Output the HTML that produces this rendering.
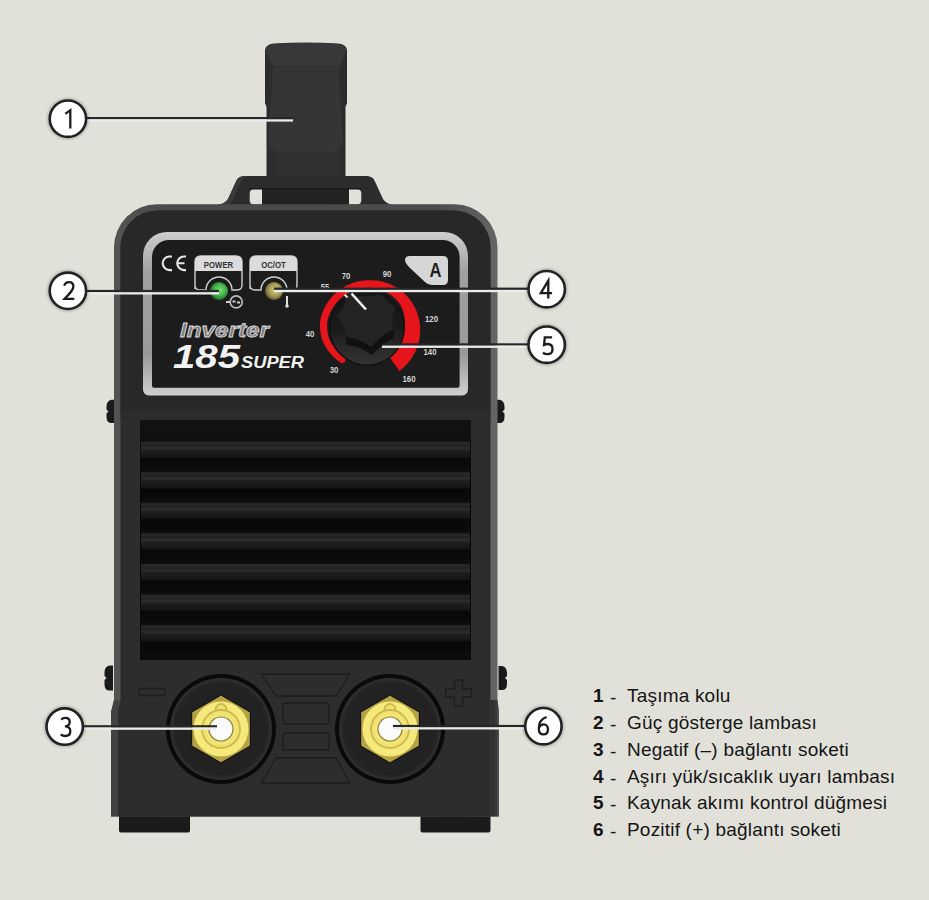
<!DOCTYPE html>
<html><head><meta charset="utf-8">
<style>
html,body{margin:0;padding:0;background:#e1e1da;width:929px;height:900px;overflow:hidden}
svg{display:block;position:absolute;left:0;top:0}
.lg{position:absolute;left:593px;font-family:"Liberation Sans",sans-serif;font-size:19px;color:#151515;white-space:nowrap;letter-spacing:0.2px;line-height:20px}
.lg b{display:inline-block;width:14px;font-weight:bold;letter-spacing:0}
.lg i{font-style:normal;display:inline-block;width:20px;position:relative;top:2px;left:3px}
</style></head><body>
<svg width="929" height="900" viewBox="0 0 929 900">
<defs>
  <filter id="blur1" x="-20%" y="-20%" width="140%" height="140%"><feGaussianBlur stdDeviation="1.2"/></filter>
  <linearGradient id="rim" x1="0" x2="1" y1="0" y2="0">
    <stop offset="0" stop-color="#545454"/><stop offset="0.15" stop-color="#4a4a4a"/><stop offset="0.85" stop-color="#4c4c4c"/><stop offset="1" stop-color="#666"/>
  </linearGradient>
  <linearGradient id="rimLow" x1="0" x2="1" y1="0" y2="0">
    <stop offset="0" stop-color="#2a2a2a"/><stop offset="0.7" stop-color="#3a3a3a"/><stop offset="1" stop-color="#555"/>
  </linearGradient>
  <linearGradient id="pborder" x1="0" x2="0" y1="0" y2="1">
    <stop offset="0" stop-color="#cfcfcf"/><stop offset="0.25" stop-color="#a0a0a0"/><stop offset="0.75" stop-color="#9a9a9a"/><stop offset="1" stop-color="#d0d0d0"/>
  </linearGradient>
  <radialGradient id="ledG" cx="0.55" cy="0.45" r="0.55">
    <stop offset="0" stop-color="#7ee07e"/><stop offset="0.6" stop-color="#41b047"/><stop offset="1" stop-color="#2a6a2e"/>
  </radialGradient>
  <radialGradient id="ledY" cx="0.55" cy="0.45" r="0.55">
    <stop offset="0" stop-color="#d0c57a"/><stop offset="0.6" stop-color="#a89d58"/><stop offset="1" stop-color="#625c36"/>
  </radialGradient>
  <linearGradient id="knobG" x1="0" x2="0" y1="0" y2="1">
    <stop offset="0" stop-color="#151515"/><stop offset="0.5" stop-color="#1a1a1a"/><stop offset="0.7" stop-color="#262626"/><stop offset="1" stop-color="#333"/>
  </linearGradient>
  <linearGradient id="ventTop" x1="0" x2="0" y1="0" y2="1">
    <stop offset="0" stop-color="#121212"/><stop offset="0.3" stop-color="#060606"/><stop offset="1" stop-color="#0b0b0b"/>
  </linearGradient>
  <linearGradient id="slat" x1="0" x2="0" y1="0" y2="1">
    <stop offset="0" stop-color="#222"/>
    <stop offset="0.06" stop-color="#2a2a2a"/>
    <stop offset="0.1" stop-color="#232323"/>
    <stop offset="0.15" stop-color="#222"/>
    <stop offset="0.19" stop-color="#2c2c2c"/>
    <stop offset="0.25" stop-color="#2a2a2a"/>
    <stop offset="0.28" stop-color="#1f1f1f"/>
    <stop offset="0.5" stop-color="#161616"/>
    <stop offset="0.55" stop-color="#080808"/>
    <stop offset="0.85" stop-color="#0a0a0a"/>
    <stop offset="1" stop-color="#0f0f0f"/>
  </linearGradient>
  <linearGradient id="handleG" x1="0" x2="1" y1="0" y2="0">
    <stop offset="0" stop-color="#2a2a2a"/><stop offset="0.15" stop-color="#303030"/><stop offset="0.85" stop-color="#303030"/><stop offset="1" stop-color="#2a2a2a"/>
  </linearGradient>
</defs>


<path d="M265 103 L265 50 Q266 44 274 43.5 Q306 41.5 338 43.5 Q346 44 347 50 L347 103 L345.5 107 L345.5 206 L266.5 206 L266.5 107 Z" fill="url(#handleG)"/>
<path d="M266 51 Q267 44.5 274 44 Q306 42 338 44 Q345 44.5 346 51 L340 66 L272 66 Z" fill="#383838"/>
<path d="M273 67 L338 67 L343 138 Q343 152 330 152 L282 152 Q268.5 152 268.5 138 Z" fill="#353535"/>
<path d="M217 205 Q225 204 228 199 L236.5 180.5 Q238.5 176 245 176 L366 176 Q372.5 176 374.5 180.5 L383 199 Q386 204 394 205 Z" fill="#2c2c2c"/>
<path d="M217 205 Q225 204 228 199 L236.5 180.5 Q238.5 176 245 176 L250 176 Q243 177 241 181 L233 200 Q231 204 226 205 Z" fill="#3a3a3a"/>
<path d="M262 189 L254 189 Q249.7 189 249.7 194 L249.7 200 Q249.7 204.5 254 204.5 L262 204.5 Z" fill="#e1e1da"/>
<path d="M349 189 L357 189 Q361.3 189 361.3 194 L361.3 200 Q361.3 204.5 357 204.5 L349 204.5 Z" fill="#e1e1da"/>
<rect x="262" y="189" width="87" height="16" fill="#222"/><rect x="249.7" y="188" width="111.6" height="1.5" fill="#1a1a1a"/>

<path d="M115 399.8 L111.5 399.8 Q106.5 400.8 106.5 406.8 L106.5 409.4 L108.5 411.4 L106.5 413.4 L106.5 417 Q106.5 423 111.5 423 L115 423 Z" fill="#1a1a1a"/>
<path d="M496 399.8 L499.5 399.8 Q504.5 400.8 504.5 406.8 L504.5 409.4 L502.5 411.4 L504.5 413.4 L504.5 417 Q504.5 423 499.5 423 L496 423 Z" fill="#1a1a1a"/>
<path d="M113 665.5 L109.5 665.5 Q104.5 666.5 104.5 672.5 L104.5 676.0 L106.5 678.0 L104.5 680.0 L104.5 684.5 Q104.5 690.5 109.5 690.5 L113 690.5 Z" fill="#1a1a1a"/>
<path d="M498.5 666 L502.0 666 Q507.0 667 507.0 673 L507.0 676.0 L505.0 678.0 L507.0 680.0 L507.0 684 Q507.0 690 502.0 690 L498.5 690 Z" fill="#1a1a1a"/>

<rect x="119" y="810" width="71" height="22.5" rx="2" fill="#1b1b1b"/>
<rect x="420.5" y="810" width="70" height="22.5" rx="2" fill="#1b1b1b"/>


<path d="M114 247 A43 43 0 0 1 157 204.3 L454.5 204.3 A43 43 0 0 1 497.5 247 L497.5 700 L499 712 L499 816.5 L111 816.5 L111 712 L114 700 Z" fill="url(#rim)"/>
<path d="M111 712 L114 700 L120.5 700 L118 710 L118 816.5 L111 816.5 Z" fill="#424242"/>
<path d="M497.5 700 L499 712 L499 816.5 L490.5 816.5 L490.5 700 Z" fill="url(#rimLow)"/>
<path d="M120.5 248 A37 37 0 0 1 157.5 210.5 L453 210.5 A37 37 0 0 1 490.5 248 L490.5 816.5 L118 816.5 L118 710 L120.5 700 Z" fill="#2d2d2d"/>
<path d="M120.5 248 A37 37 0 0 1 157.5 210.5 L453 210.5 A37 37 0 0 1 490.5 248 L490.5 410 L120.5 410 Z" fill="#282828"/>
<rect x="120.5" y="410" width="370" height="10" fill="#2c2c2c"/>
<path d="M143 256 A24 24 0 0 1 167 232 L444 232 A24 24 0 0 1 468 256 L468 389.6 A6 6 0 0 1 462 395.6 L149 395.6 A6 6 0 0 1 143 389.6 Z" fill="url(#pborder)"/>
<path d="M152 257 A17 17 0 0 1 169 240 L442.6 240 A17 17 0 0 1 459.6 257 L459.6 385.8 A2 2 0 0 1 457.6 387.8 L154 387.8 A2 2 0 0 1 152 385.8 Z" fill="#1c1c1c"/>

<rect x="140" y="420" width="331" height="240" fill="url(#ventTop)"/>
<rect x="141" y="441.5" width="329" height="30.6" fill="url(#slat)"/>
<rect x="141" y="472.1" width="329" height="30.6" fill="url(#slat)"/>
<rect x="141" y="502.7" width="329" height="30.6" fill="url(#slat)"/>
<rect x="141" y="533.3" width="329" height="30.6" fill="url(#slat)"/>
<rect x="141" y="563.9" width="329" height="30.6" fill="url(#slat)"/>
<rect x="141" y="594.5" width="329" height="30.6" fill="url(#slat)"/>
<rect x="141" y="625.1" width="329" height="30.6" fill="url(#slat)"/>

<g fill="none" stroke="#1d1d1d" stroke-width="1.3">
  <path d="M261 674 L350 674 L336 696 L276 696 Z"/>
  <rect x="283" y="703" width="46" height="21" rx="2"/>
  <rect x="283" y="733" width="46" height="17" rx="2"/>
  <path d="M276 758 L336 758 L350 783 L261 783 Z"/>
</g>
<rect x="139" y="688.5" width="26" height="7" rx="1.5" fill="none" stroke="#1d1d1d" stroke-width="1.3"/>
<path d="M454.5 680 h8 v9 h9 v8 h-9 v9 h-8 v-9 h-9 v-8 h9 Z" fill="none" stroke="#1d1d1d" stroke-width="1.3"/>


  <circle cx="221" cy="729" r="55" fill="#0a0a0a"/>
  <circle cx="221" cy="729" r="51" fill="#2e2e2e"/>
  <circle cx="221" cy="729" r="48.5" fill="#262626"/>
  <circle cx="221" cy="729" r="46" fill="#222"/>
  <polygon points="221.0,695.0 250.4,712.0 250.4,746.0 221.0,763.0 191.6,746.0 191.6,712.0" fill="#b5a244" stroke="#141414" stroke-width="1.2"/>
  <circle cx="221" cy="729" r="27.5" fill="#f4e97a"/>
  <circle cx="221" cy="709.5" r="5.5" fill="#f0e272" stroke="#cdb84c" stroke-width="1.8"/>
  <circle cx="221" cy="729" r="19" fill="#f0e272" stroke="#cdb84c" stroke-width="1.8"/>
  <circle cx="221" cy="729" r="15.5" fill="#f3e576"/>
  <circle cx="221" cy="729" r="12.6" fill="#8f803e"/>
  <circle cx="221" cy="729" r="11.4" fill="#fbfbfb"/>


  <circle cx="390" cy="729" r="55" fill="#0a0a0a"/>
  <circle cx="390" cy="729" r="51" fill="#2e2e2e"/>
  <circle cx="390" cy="729" r="48.5" fill="#262626"/>
  <circle cx="390" cy="729" r="46" fill="#222"/>
  <polygon points="390.0,695.0 419.4,712.0 419.4,746.0 390.0,763.0 360.6,746.0 360.6,712.0" fill="#b5a244" stroke="#141414" stroke-width="1.2"/>
  <circle cx="390" cy="729" r="27.5" fill="#f4e97a"/>
  <circle cx="390" cy="709.5" r="5.5" fill="#f0e272" stroke="#cdb84c" stroke-width="1.8"/>
  <circle cx="390" cy="729" r="19" fill="#f0e272" stroke="#cdb84c" stroke-width="1.8"/>
  <circle cx="390" cy="729" r="15.5" fill="#f3e576"/>
  <circle cx="390" cy="729" r="12.6" fill="#8f803e"/>
  <circle cx="390" cy="729" r="11.4" fill="#fbfbfb"/>


<g font-family="Liberation Sans, sans-serif">
  <path d="M172 256.5 L169.5 256.5 A6.8 6.8 0 0 0 169.5 270.1 L172 270.1 M186 256.5 L184 256.5 A6.8 6.8 0 0 0 184 270.1 L186 270.1 M177.5 263.3 L184.5 263.3" fill="none" stroke="#e6e6e6" stroke-width="2.1"/>
  <path d="M195 289 L195 262 Q195 256 201 256 L236 256 Q242 256 242 262 L242 285 Q242 290 237 290 L232 290 A13 13 0 0 0 206 290 L200 290 Q195 290 195 285 Z" fill="none" stroke="#cfcfcf" stroke-width="1.4"/>
  <path d="M195 271 L195 262 Q195 256 201 256 L236 256 Q242 256 242 262 L242 271 Z" fill="#dcdcdc"/>
  <text x="218.5" y="267.8" font-size="9.5" font-weight="bold" fill="#333" text-anchor="middle" transform="translate(218.5 0) scale(0.82 1) translate(-218.5 0)">POWER</text>
  <circle cx="219" cy="291" r="9" fill="url(#ledG)"/>
  <circle cx="236.2" cy="301.9" r="6" fill="none" stroke="#bdbdbd" stroke-width="1.6"/>
  <path d="M226 301.9 h4 M232.5 301.5 h3 M237 302.5 h3" stroke="#cfcfcf" stroke-width="2"/>
  <path d="M250 289 L250 262 Q250 256 256 256 L291 256 Q297 256 297 262 L297 285 Q297 290 292 290 L287 290 A13 13 0 0 0 261 290 L255 290 Q250 290 250 285 Z" fill="none" stroke="#cfcfcf" stroke-width="1.4"/>
  <path d="M250 271 L250 262 Q250 256 256 256 L291 256 Q297 256 297 262 L297 271 Z" fill="#dcdcdc"/>
  <text x="273.5" y="267.8" font-size="9.5" font-weight="bold" fill="#333" text-anchor="middle" transform="translate(273.5 0) scale(0.82 1) translate(-273.5 0)">OC/OT</text>
  <circle cx="274" cy="291" r="9" fill="url(#ledY)"/>
  <rect x="286" y="296" width="2" height="10" fill="#ddd"/>
  <circle cx="287" cy="306" r="1.8" fill="#ddd"/>
  <path d="M410 256 L443 256 Q448 256 448 261 L448 280 Q448 285 443 285 L432 285 Q428 285 425 282 L410 268 Q405 263 405 260 Q405 256 410 256 Z" fill="#d6d6d6"/>
  <text x="435.5" y="276.8" font-size="19.5" font-weight="bold" fill="#1e1e1e" text-anchor="middle" transform="translate(435.5 0) scale(0.85 1) translate(-435.5 0)">A</text>
  <g font-size="9.6" font-weight="bold" fill="#d4d4d4" text-anchor="middle">
    <text transform="translate(334 373) scale(0.82 1)">30</text>
    <text transform="translate(310 337) scale(0.82 1)">40</text>
    <text transform="translate(325 290) scale(0.82 1)">55</text>
    <text transform="translate(346 279) scale(0.82 1)">70</text>
    <text transform="translate(387 277) scale(0.82 1)">90</text>
    <text transform="translate(431.5 322) scale(0.82 1)">120</text>
    <text transform="translate(430 355) scale(0.82 1)">140</text>
    <text transform="translate(409 381.5) scale(0.82 1)">160</text>
  </g>
  <text x="180" y="336.5" font-size="21" font-style="italic" font-weight="bold" fill="#7a7a7a" stroke="#d8d8d8" stroke-width="0.9" textLength="89" lengthAdjust="spacingAndGlyphs">Inverter</text>
  <text x="173" y="368" font-size="34" font-style="italic" font-weight="bold" fill="#f2f2f2" textLength="67" lengthAdjust="spacingAndGlyphs">185</text>
  <text x="241" y="368" font-size="16" font-style="italic" font-weight="bold" fill="#f2f2f2" textLength="63" lengthAdjust="spacingAndGlyphs">SUPER</text>
</g>


<path d="M344.7 358.1 A3 3 0 0 1 340.8 362.6 L339.5 361.7 L338.2 360.8 L336.9 359.9 L335.7 358.8 L334.5 357.8 L333.3 356.7 L332.1 355.5 L331.0 354.3 L330.0 353.1 L328.9 351.8 L327.9 350.4 L327.0 349.1 L326.1 347.6 L325.2 346.2 L324.4 344.7 L323.7 343.2 L323.0 341.6 L322.3 340.0 L321.7 338.4 L321.3 336.7 L320.9 335.0 L320.6 333.3 L320.4 331.6 L320.2 329.9 L320.1 328.1 L320.0 326.4 L320.0 324.6 L320.1 322.9 L320.2 321.1 L320.4 319.4 L320.9 317.7 L321.3 316.0 L321.9 314.3 L322.4 312.6 L323.1 311.0 L323.8 309.4 L324.5 307.8 L325.3 306.2 L326.2 304.7 L327.1 303.2 L328.1 301.8 L329.1 300.4 L330.2 299.0 L331.3 297.6 L332.4 296.3 L333.6 295.1 L334.8 293.8 L336.1 292.7 L337.4 291.5 L338.8 290.5 L340.2 289.4 L341.6 288.5 L343.1 287.5 L344.6 286.7 L346.1 285.8 L347.6 285.1 L349.2 284.4 L350.8 283.7 L352.4 283.1 L354.0 282.5 L355.6 282.1 L357.3 281.6 L359.0 281.3 L360.7 281.0 L362.3 280.7 L364.0 280.5 L365.7 280.4 L367.4 280.3 L369.1 280.3 L370.9 280.3 L372.6 280.3 L374.3 280.4 L375.9 280.5 L377.6 280.8 L379.3 281.0 L381.0 281.3 L382.7 281.7 L384.3 282.2 L386.0 282.7 L387.6 283.2 L389.2 283.8 L390.8 284.5 L392.3 285.2 L393.8 286.0 L395.3 286.8 L396.8 287.7 L398.3 288.6 L399.7 289.6 L401.1 290.6 L402.4 291.7 L403.7 292.9 L405.0 294.0 L406.2 295.3 L407.4 296.5 L408.5 297.8 L409.6 299.2 L410.6 300.5 L411.6 302.0 L412.6 303.4 L413.5 304.9 L414.3 306.4 L415.1 308.0 L415.9 309.5 L416.5 311.1 L417.2 312.8 L417.7 314.4 L418.2 316.1 L418.7 317.8 L419.1 319.5 L419.4 321.2 L419.7 322.9 L419.9 324.6 L420.1 326.4 L420.2 328.1 L420.2 329.9 L420.2 331.6 L420.1 333.4 L419.9 335.1 L419.7 336.9 L419.5 338.6 L419.1 340.3 L418.7 342.1 L418.3 343.8 L417.8 345.5 L417.2 347.1 L416.6 348.8 L415.9 350.4 L415.2 352.0 L414.4 353.6 L413.5 355.1 L412.6 356.7 L411.6 358.2 L410.6 359.6 L409.6 361.0 L408.4 362.4 L407.3 363.8 L406.1 365.1 L404.8 366.3 L403.5 367.5 L402.2 368.7 L400.8 369.8 L399.4 370.9 L388.5 355.4 L389.4 354.8 L390.4 354.2 L391.3 353.5 L392.2 352.8 L393.0 352.0 L393.9 351.3 L394.7 350.5 L395.5 349.6 L396.3 348.8 L397.0 347.9 L397.7 347.0 L398.4 346.0 L399.0 345.1 L399.6 344.1 L400.2 343.1 L400.7 342.0 L401.2 341.0 L401.7 339.9 L402.1 338.8 L402.5 337.7 L402.9 336.6 L403.2 335.5 L403.5 334.3 L403.7 333.1 L403.9 332.0 L404.0 330.8 L404.2 329.6 L404.3 328.4 L404.5 327.2 L404.7 326.0 L404.8 324.7 L404.9 323.5 L404.9 322.2 L404.9 321.0 L404.8 319.7 L404.7 318.4 L404.5 317.1 L404.3 315.8 L404.0 314.6 L403.7 313.3 L403.4 312.0 L403.0 310.7 L402.5 309.5 L402.0 308.2 L401.5 307.0 L400.9 305.7 L400.2 304.5 L399.5 303.4 L398.6 302.3 L397.8 301.2 L396.8 300.2 L395.9 299.2 L394.9 298.3 L393.8 297.4 L392.8 296.5 L391.7 295.6 L390.5 294.8 L389.4 294.1 L388.2 293.3 L387.0 292.6 L385.7 292.0 L384.4 291.4 L383.1 290.8 L381.8 290.3 L380.5 289.8 L379.1 289.4 L377.8 289.0 L376.4 288.7 L375.0 288.4 L373.6 288.2 L372.1 288.0 L370.7 287.8 L369.3 287.8 L367.8 287.8 L366.4 287.8 L365.0 287.9 L363.5 288.1 L362.1 288.3 L360.7 288.5 L359.2 288.8 L357.8 289.2 L356.4 289.6 L355.0 290.0 L353.7 290.5 L352.3 291.1 L351.0 291.6 L349.6 292.3 L348.4 293.0 L347.1 293.7 L345.8 294.5 L344.6 295.3 L343.4 296.2 L342.3 297.1 L341.1 298.0 L340.0 299.0 L338.9 300.0 L337.9 301.1 L336.9 302.2 L336.0 303.4 L335.0 304.5 L334.2 305.7 L333.3 307.0 L332.5 308.2 L331.8 309.5 L331.1 310.9 L330.4 312.2 L329.8 313.6 L329.2 315.0 L328.7 316.4 L328.3 317.8 L327.8 319.3 L327.5 320.7 L327.2 322.2 L327.2 323.7 L327.1 325.2 L327.1 326.8 L327.2 328.3 L327.3 329.7 L327.5 331.2 L327.7 332.7 L328.0 334.2 L328.3 335.6 L328.6 337.0 L329.2 338.4 L329.8 339.8 L330.4 341.1 L331.1 342.4 L331.8 343.7 L332.6 344.9 L333.3 346.1 L334.2 347.3 L335.0 348.4 L335.8 349.5 L336.7 350.6 L337.6 351.7 L338.5 352.7 L339.5 353.7 L340.5 354.7 L341.5 355.6 L342.6 356.4 L343.6 357.3 L344.7 358.1 Z" fill="#e5151b"/>
<circle cx="367" cy="328" r="38" fill="#111"/>
<circle cx="367" cy="328" r="36.5" fill="url(#knobG)"/>
<path d="M346.2 336.5 Q360 339 371.3 346.4 Q381 335 393.5 329.4 L394 338 Q383 343 372 355 Q360 346 346 345 Z" fill="#111"/>
<path d="M343.9 293.5 Q350 303 336.3 316.2 Q345 325 346.2 336.5 Q360 339 371.3 346.4 Q381 335 393.5 329.4 Q390 318 395.3 307.7 Q386 302 381.7 294 Q362 299 343.9 293.5 Z" fill="#242424"/>
<line x1="351.5" y1="293.5" x2="366" y2="309.5" stroke="#f0f0f0" stroke-width="2.6"/>
<line x1="344.5" y1="294.5" x2="347.5" y2="297.5" stroke="#e0e0e0" stroke-width="2"/>

<g>
<rect x="86" y="117.0" width="207" height="2.3" fill="#262626"/><rect x="86" y="119.3" width="207" height="2.3" fill="#ececec"/>
<rect x="86" y="289.9" width="133" height="2.3" fill="#262626"/><rect x="86" y="292.2" width="133" height="2.3" fill="#ececec"/>
<rect x="274" y="287.6" width="256" height="2.3" fill="#262626"/><rect x="274" y="289.9" width="256" height="2.3" fill="#ececec"/>
<rect x="382" y="343.3" width="148" height="2.3" fill="#262626"/><rect x="382" y="345.6" width="148" height="2.3" fill="#ececec"/>
<rect x="82" y="725.2" width="135" height="2.3" fill="#262626"/><rect x="82" y="727.5" width="135" height="2.3" fill="#ececec"/>
<rect x="393" y="724.9" width="134" height="2.3" fill="#262626"/><rect x="393" y="727.2" width="134" height="2.3" fill="#ececec"/>
</g>
<g font-family="Liberation Sans, sans-serif" font-size="25" fill="#1a1a1a">
<circle cx="67.9" cy="118.7" r="19.5" fill="none" stroke="#000" stroke-opacity="0.18" stroke-width="3" filter="url(#blur1)"/><circle cx="67.9" cy="118.7" r="18.2" fill="#fff" stroke="#222" stroke-width="2.6"/><path transform="translate(64.9 109.3)" d="M0.4 4.6 L5.4 0.9 L5.4 19.2" fill="none" stroke="#1c1c1c" stroke-width="2.3"/>
<circle cx="67.9" cy="290.8" r="19.5" fill="none" stroke="#000" stroke-opacity="0.18" stroke-width="3" filter="url(#blur1)"/><circle cx="67.9" cy="290.8" r="18.2" fill="#fff" stroke="#222" stroke-width="2.6"/><path transform="translate(63.4 281.2)" d="M0.9 4.6 C1.5 1.8 3.6 0.9 5.6 0.9 C8.4 0.9 10.0 2.8 10.0 5.4 C10.0 8.6 7.2 11.6 1.2 17.7 L10.9 17.7" fill="none" stroke="#1c1c1c" stroke-width="2.3"/>
<circle cx="64.7" cy="726.6" r="19.5" fill="none" stroke="#000" stroke-opacity="0.18" stroke-width="3" filter="url(#blur1)"/><circle cx="64.7" cy="726.6" r="18.2" fill="#fff" stroke="#222" stroke-width="2.6"/><path transform="translate(60.3 717.0)" d="M0.9 2.6 C2.0 1.4 3.6 0.9 5.0 0.9 C7.8 0.9 9.4 2.6 9.4 5.1 C9.4 7.7 7.4 9.4 4.6 9.4 C7.9 9.4 10.0 11.4 10.0 14.3 C10.0 17.3 7.9 19.0 4.9 19.0 C3.4 19.0 1.8 18.5 0.4 17.4" fill="none" stroke="#1c1c1c" stroke-width="2.3"/>
<circle cx="546.7" cy="289.2" r="19.5" fill="none" stroke="#000" stroke-opacity="0.18" stroke-width="3" filter="url(#blur1)"/><circle cx="546.7" cy="289.2" r="18.2" fill="#fff" stroke="#222" stroke-width="2.6"/><path transform="translate(539.9 279.7)" d="M8.4 18.9 L8.4 1.0 L0.9 13.4 L12.2 13.4" fill="none" stroke="#1c1c1c" stroke-width="2.3"/>
<circle cx="546.7" cy="344.7" r="19.5" fill="none" stroke="#000" stroke-opacity="0.18" stroke-width="3" filter="url(#blur1)"/><circle cx="546.7" cy="344.7" r="18.2" fill="#fff" stroke="#222" stroke-width="2.6"/><path transform="translate(542.4 336.5)" d="M9.7 0.9 L2.4 0.9 L1.7 8.4 C2.9 7.8 4.1 7.5 5.2 7.5 C8.3 7.5 10.1 9.6 10.1 12.7 C10.1 15.9 7.9 17.7 4.9 17.7 C3.4 17.7 2.0 17.2 0.5 16.2" fill="none" stroke="#1c1c1c" stroke-width="2.3"/>
<circle cx="543.4" cy="726.2" r="19.5" fill="none" stroke="#000" stroke-opacity="0.18" stroke-width="3" filter="url(#blur1)"/><circle cx="543.4" cy="726.2" r="18.2" fill="#fff" stroke="#222" stroke-width="2.6"/><path transform="translate(537.7 716.2)" d="M8.9 0.8 C4.2 2.4 1.1 6.8 1.1 12.2 C1.1 16.1 3.0 18.2 5.8 18.2 C8.6 18.2 10.3 16.1 10.3 13.0 C10.3 10.1 8.5 8.1 6.0 8.1 C3.8 8.1 2.1 9.4 1.3 11.4" fill="none" stroke="#1c1c1c" stroke-width="2.3"/>
</g>
</svg>
<div class="lg" style="top:686.0px"><b>1</b><i>-</i>Taşıma kolu</div>
<div class="lg" style="top:712.9px"><b>2</b><i>-</i>Güç gösterge lambası</div>
<div class="lg" style="top:739.7px"><b>3</b><i>-</i>Negatif (–) bağlantı soketi</div>
<div class="lg" style="top:766.6px"><b>4</b><i>-</i>Aşırı yük/sıcaklık uyarı lambası</div>
<div class="lg" style="top:793.4px"><b>5</b><i>-</i>Kaynak akımı kontrol düğmesi</div>
<div class="lg" style="top:820.3px"><b>6</b><i>-</i>Pozitif (+) bağlantı soketi</div>
</body></html>
